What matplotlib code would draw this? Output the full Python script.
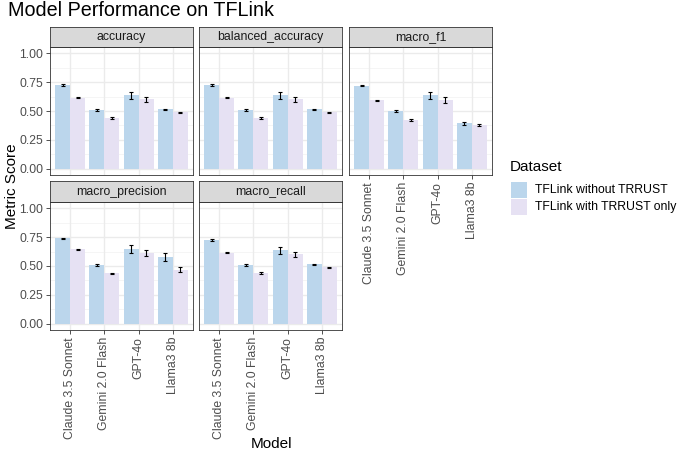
import matplotlib.pyplot as plt
from matplotlib.patches import Rectangle
import numpy as np

plt.rcParams['font.family'] = ['Liberation Sans', 'DejaVu Sans']

models = ["Claude 3.5 Sonnet", "Gemini 2.0 Flash", "GPT-4o", "Llama3 8b"]
datasets = ["TFLink without TRRUST", "TFLink with TRRUST only"]
metrics = ["accuracy", "balanced_accuracy", "macro_f1", "macro_precision", "macro_recall"]

# mean scores (without TRRUST, with TRRUST only) and error half-widths
accuracy_without = [0.726, 0.508, 0.638, 0.514]
accuracy_with = [0.615, 0.438, 0.600, 0.488]
accuracy_err_without = [0.005, 0.012, 0.030, 0.006]
accuracy_err_with = [0.004, 0.008, 0.022, 0.005]

balanced_without = [0.726, 0.508, 0.638, 0.514]
balanced_with = [0.615, 0.438, 0.600, 0.488]
balanced_err_without = [0.005, 0.012, 0.030, 0.006]
balanced_err_with = [0.004, 0.008, 0.022, 0.005]

f1_without = [0.720, 0.500, 0.635, 0.392]
f1_with = [0.594, 0.422, 0.594, 0.378]
f1_err_without = [0.005, 0.012, 0.033, 0.010]
f1_err_with = [0.004, 0.008, 0.025, 0.009]

precision_without = [0.740, 0.508, 0.645, 0.575]
precision_with = [0.645, 0.435, 0.610, 0.468]
precision_err_without = [0.005, 0.012, 0.035, 0.035]
precision_err_with = [0.005, 0.008, 0.025, 0.024]

recall_without = [0.726, 0.508, 0.638, 0.514]
recall_with = [0.615, 0.438, 0.600, 0.488]
recall_err_without = [0.005, 0.012, 0.030, 0.006]
recall_err_with = [0.004, 0.008, 0.022, 0.005]

means = [(accuracy_without, accuracy_with), (balanced_without, balanced_with),
         (f1_without, f1_with), (precision_without, precision_with),
         (recall_without, recall_with)]
errs = [(accuracy_err_without, accuracy_err_with), (balanced_err_without, balanced_err_with),
        (f1_err_without, f1_err_with), (precision_err_without, precision_err_with),
        (recall_err_without, recall_err_with)]

colors = ["#BBD6EC", "#E6E1F3"]

W, H = 680, 453
fig = plt.figure(figsize=(W / 100, H / 100), dpi=100)


def box(x0, y0, x1, y1):
    return [x0 / W, 1 - y1 / H, (x1 - x0) / W, (y1 - y0) / H]


cols = [(50, 193), (199, 342), (349, 492)]
rows = [((27, 47), (47, 175)), ((181, 202), (202, 330))]

x = np.arange(1, len(models) + 1)
bw = 0.44
for i, metric in enumerate(metrics):
    r, c = divmod(i, 3)
    (sy0, sy1), (py0, py1) = rows[r]
    cx0, cx1 = cols[c]
    ax = fig.add_axes(box(cx0, py0, cx1, py1))
    ax.set_facecolor("white")
    for yv in [0.125, 0.375, 0.625, 0.875]:
        ax.axhline(yv, color="#F2F2F2", lw=0.5, zorder=0)
    for yv in [0, 0.25, 0.5, 0.75, 1.0]:
        ax.axhline(yv, color="#EBEBEB", lw=1.0, zorder=0)
    for xv in x:
        ax.axvline(xv, color="#EBEBEB", lw=1.0, zorder=0)
    for j in range(2):
        xs = x + (j - 0.5) * bw
        ax.bar(xs, means[i][j], width=bw, color=colors[j], zorder=2)
        ax.errorbar(xs, means[i][j], yerr=errs[i][j], fmt="none", ecolor="black",
                    elinewidth=0.8, capsize=1.4, capthick=0.8, zorder=3)
    ax.set_xlim(0.4, 4.6)
    ax.set_ylim(-0.055, 1.055)
    ax.set_yticks([0, 0.25, 0.5, 0.75, 1.0])
    ax.set_xticks(x)
    for s in ax.spines.values():
        s.set_color("#333333")
        s.set_linewidth(0.6)
    ax.tick_params(length=3, width=0.6, color="#333333", labelsize=8.8,
                   labelcolor="#4D4D4D", pad=2)
    if c == 0:
        ax.set_yticklabels(["0.00", "0.25", "0.50", "0.75", "1.00"])
    else:
        ax.tick_params(axis="y", length=0, labelleft=False)
    if r == 1 or c == 2:
        ax.set_xticklabels(models, rotation=90)
    else:
        ax.tick_params(axis="x", length=0, labelbottom=False)

    sax = fig.add_axes(box(cx0, sy0, cx1, sy1))
    sax.set_facecolor("#D9D9D9")
    sax.set_xticks([])
    sax.set_yticks([])
    for s in sax.spines.values():
        s.set_color("#333333")
        s.set_linewidth(0.6)
    sax.text(0.5, 0.5, metric, ha="center", va="center", fontsize=8.8,
             color="#1A1A1A", transform=sax.transAxes)

fig.text(8 / W, 1 - 11 / H, "Model Performance on TFLink", fontsize=14.2,
         ha="left", va="center")
fig.text(12 / W, 1 - 186 / H, "Metric Score", fontsize=11, rotation=90,
         ha="center", va="center")
fig.text(271 / W, 1 - 444 / H, "Model", fontsize=11, ha="center", va="center")

# legend
fig.text(510 / W, 1 - 167 / H, "Dataset", fontsize=11, ha="left", va="center")
for j, name in enumerate(datasets):
    ky0 = 181 + j * 17
    fig.patches.append(Rectangle((511 / W, 1 - (ky0 + 17) / H), 16 / W, 16 / H,
                                 transform=fig.transFigure, facecolor=colors[j],
                                 edgecolor="none"))
    fig.text(535 / W, 1 - (ky0 + 9) / H, name, fontsize=8.8, ha="left", va="center")

fig.savefig("out.png", dpi=100)
